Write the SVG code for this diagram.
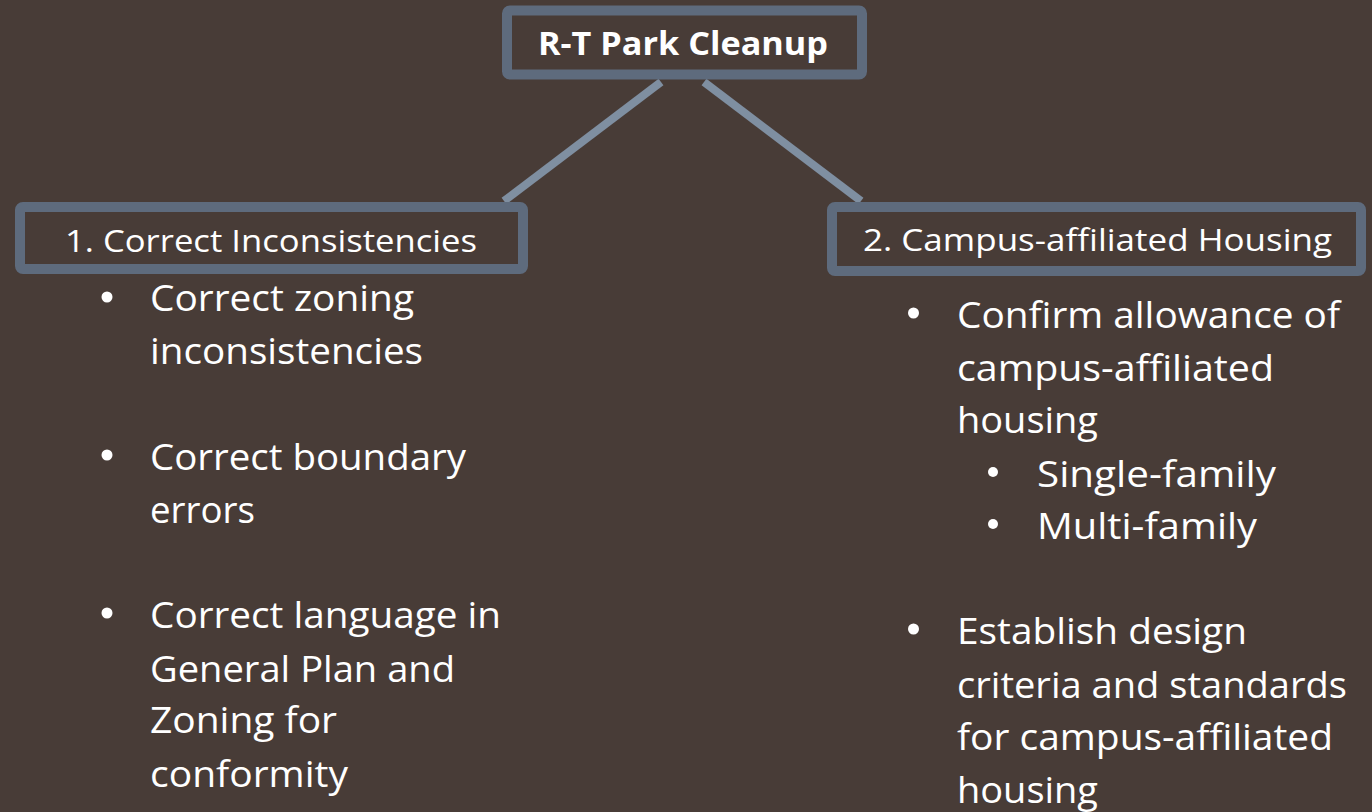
<svg xmlns="http://www.w3.org/2000/svg" width="1372" height="812" viewBox="0 0 1372 812">
<style>
  .box { fill: none; stroke: #5E6B7D; stroke-width: 10; }
  .conn { stroke: #7F8FA1; stroke-width: 8; fill: none; }
  text { font-family: "Open Sans", "Liberation Sans", sans-serif; fill: #FFFFFF; }
  .title { font-size: 33px; font-weight: bold; }
  .head { font-size: 31px; }
  .body { font-size: 37px; }
  .dot { fill: #FFFFFF; }
</style>
<rect x="0" y="0" width="1372" height="812" fill="#483C37"/>
<g id="connectors">
  <line class="conn" x1="661" y1="82" x2="504" y2="201"/>
  <line class="conn" x1="704" y1="82" x2="861" y2="201"/>
</g>
<g id="node-root">
  <rect class="box" x="507" y="10.5" width="355" height="64" rx="3"/>
  <text class="title" x="538" y="55" textLength="290" lengthAdjust="spacingAndGlyphs">R-T Park Cleanup</text>
</g>
<g id="node-1">
  <rect class="box" x="20" y="207" width="503" height="62" rx="3"/>
  <text class="head" x="65" y="252" textLength="412" lengthAdjust="spacingAndGlyphs">1. Correct Inconsistencies</text>
</g>
<g id="node-2">
  <rect class="box" x="832" y="207" width="529" height="64" rx="3"/>
  <text class="head" x="863" y="251" textLength="469" lengthAdjust="spacingAndGlyphs">2. Campus-affiliated Housing</text>
</g>
<g id="list-1">
  <circle class="dot" cx="107" cy="297" r="5.5"/>
  <text class="body" x="150" y="311" textLength="264" lengthAdjust="spacingAndGlyphs">Correct zoning</text>
  <text class="body" x="150" y="364" textLength="273" lengthAdjust="spacingAndGlyphs">inconsistencies</text>
  <circle class="dot" cx="107" cy="455" r="5.5"/>
  <text class="body" x="150" y="470" textLength="316" lengthAdjust="spacingAndGlyphs">Correct boundary</text>
  <text class="body" x="150" y="523" textLength="105" lengthAdjust="spacingAndGlyphs">errors</text>
  <circle class="dot" cx="107" cy="613" r="5.5"/>
  <text class="body" x="150" y="628" textLength="351" lengthAdjust="spacingAndGlyphs">Correct language in</text>
  <text class="body" x="150" y="682" textLength="305" lengthAdjust="spacingAndGlyphs">General Plan and</text>
  <text class="body" x="150" y="733" textLength="187" lengthAdjust="spacingAndGlyphs">Zoning for</text>
  <text class="body" x="150" y="787" textLength="198" lengthAdjust="spacingAndGlyphs">conformity</text>
</g>
<g id="list-2">
  <circle class="dot" cx="913.5" cy="313" r="5.5"/>
  <text class="body" x="957" y="328" textLength="383" lengthAdjust="spacingAndGlyphs">Confirm allowance of</text>
  <text class="body" x="957" y="381" textLength="317" lengthAdjust="spacingAndGlyphs">campus-affiliated</text>
  <text class="body" x="957" y="433" textLength="141" lengthAdjust="spacingAndGlyphs">housing</text>
  <circle class="dot" cx="993" cy="472" r="5"/>
  <text class="body" x="1037" y="487" textLength="239" lengthAdjust="spacingAndGlyphs">Single-family</text>
  <circle class="dot" cx="993" cy="524" r="5"/>
  <text class="body" x="1037" y="539" textLength="220" lengthAdjust="spacingAndGlyphs">Multi-family</text>
  <circle class="dot" cx="913.5" cy="629" r="5.5"/>
  <text class="body" x="957" y="644" textLength="290" lengthAdjust="spacingAndGlyphs">Establish design</text>
  <text class="body" x="957" y="698" textLength="390" lengthAdjust="spacingAndGlyphs">criteria and standards</text>
  <text class="body" x="957" y="750" textLength="376" lengthAdjust="spacingAndGlyphs">for campus-affiliated</text>
  <text class="body" x="957" y="803" textLength="141" lengthAdjust="spacingAndGlyphs">housing</text>
</g>
</svg>
